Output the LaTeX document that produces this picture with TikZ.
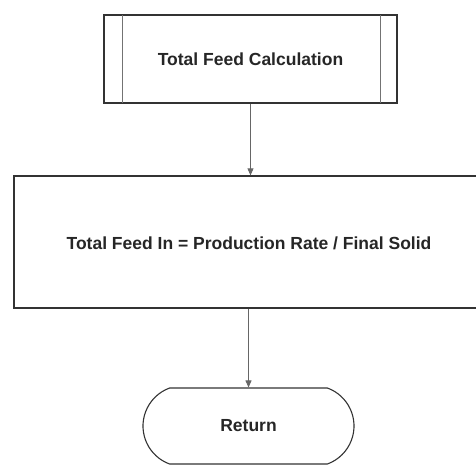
\documentclass[tikz,border=0pt]{standalone}
\usepackage{fontspec}
\setmainfont{Liberation Sans}
\usetikzlibrary{arrows.meta,shapes.misc}
\tikzset{
  box/.style={draw=black!80, line width=1.3pt, inner sep=0pt},
  lbl/.style={font=\fontsize{17.5}{20}\selectfont\bfseries, text=black!85},
  conn/.style={draw=black!60, line width=0.8pt, -{Triangle[length=7pt,width=6pt]}},
  inner/.style={draw=black!55, line width=0.8pt}
}
\begin{document}
\begin{tikzpicture}[x=1pt,y=-1pt]
\useasboundingbox (0,0) rectangle (476,466);
\fill[white] (0,0) rectangle (476,466);
\node[box, minimum width=293pt, minimum height=88pt] (calc) at (250.5,59) {};
\node[lbl] (calct) at (calc.center) {Total Feed Calculation};
\draw[inner] (122,15) -- (122,103);
\draw[inner] (380,15) -- (380,103);
\node[box, minimum width=470pt, minimum height=132pt] (feed) at (249,242) {};
\node[lbl] (feedt) at (249,243) {Total Feed In = Production Rate / Final Solid};
\node[box, draw=black!80, line width=1.1pt, rounded rectangle, rounded rectangle arc length=140, minimum width=211pt, minimum height=76pt] (ret) at (248.5,426) {};
\node[lbl] (rett) at (ret.center) {Return};
\draw[conn] (calc.south) -- (calc.south |- feed.north);
\draw[conn] (ret.north |- feed.south) -- (ret.north);
\end{tikzpicture}
\end{document}
